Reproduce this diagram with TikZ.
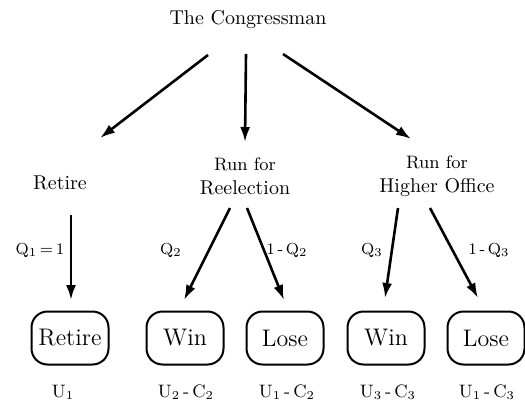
\documentclass[tikz,border=0pt]{standalone}
\usepackage{xcolor}
\usepackage{tikz}
\usetikzlibrary{positioning,arrows.meta}

\tikzset{
  arr/.style={line width=1.3pt,-{Latex[length=7.5pt,width=5pt]}},
  outcome/.style={draw,line width=1pt,rounded corners=8pt,minimum width=38.5pt,minimum height=26.5pt,font=\large},
  payoff/.style={font=\small},
  prob/.style={font=\footnotesize}
}

\begin{document}
\begin{tikzpicture}[x=0.5pt,y=-0.5pt]
      \useasboundingbox (0,0) rectangle (525,402);
      % top of the tree
      \node (cong) at (248,20) {The Congressman};
      \node (ret) at (60,183) {Retire};
      \node[align=center] (rer) at (245,176) {{\small Run for}\\Reelection};
      \node[align=center] (hio) at (437,176) {{\small Run for}\\Higher Office};
      \draw[arr] ([shift={(-40,35)}]cong.center) -- ([shift={(40,-45)}]ret.center);
      \draw[arr] ([shift={(-2,34)}]cong.center) -- ([shift={(0,-34)}]rer.center);
      \draw[arr] ([shift={(35,34)}]cong.center) -- ([shift={(-26,-37)}]hio.center);
      % outcomes
      \node[outcome] (bret) at (70,338) {Retire};
      \node[outcome] (bwin2) at (185,338) {Win};
      \node[outcome] (blose2) at (285,338) {Lose};
      \node[outcome] (bwin3) at (386,338) {Win};
      \node[outcome] (blose3) at (486,338) {Lose};
      \draw[arr] ([shift={(11,32)}]ret.center) -- ([shift={(1,-38)}]bret.center);
      \draw[arr] ([shift={(-15,32)}]rer.center) -- ([shift={(-1,-38)}]bwin2.center);
      \draw[arr] ([shift={(2,32)}]rer.center) -- ([shift={(-1,-38)}]blose2.center);
      \draw[arr] ([shift={(-39,32)}]hio.center) -- ([shift={(-1,-40)}]bwin3.center);
      \draw[arr] ([shift={(-7,32)}]hio.center) -- ([shift={(-8,-40)}]blose3.center);
      \node[prob] (q1) at (40,250) {Q\textsubscript{1}\,=\,1};
      \node[prob] (q2) at (171,250) {Q\textsubscript{2}};
      \node[prob] (nq2) at (287,250) {1\,-\,Q\textsubscript{2}};
      \node[prob] (q3) at (372,250) {Q\textsubscript{3}};
      \node[prob] (nq3) at (489,250) {1\,-\,Q\textsubscript{3}};
      % payoffs
      \node[payoff] (u1) at (63,392) {U\textsubscript{1}};
      \node[payoff] (u2) at (186,392) {U\textsubscript{2}\,-\,C\textsubscript{2}};
      \node[payoff] (u12) at (287,392) {U\textsubscript{1}\,-\,C\textsubscript{2}};
      \node[payoff] (u3) at (388,392) {U\textsubscript{3}\,-\,C\textsubscript{3}};
      \node[payoff] (u13) at (487,392) {U\textsubscript{1}\,-\,C\textsubscript{3}};
    \end{tikzpicture}
\end{document}
